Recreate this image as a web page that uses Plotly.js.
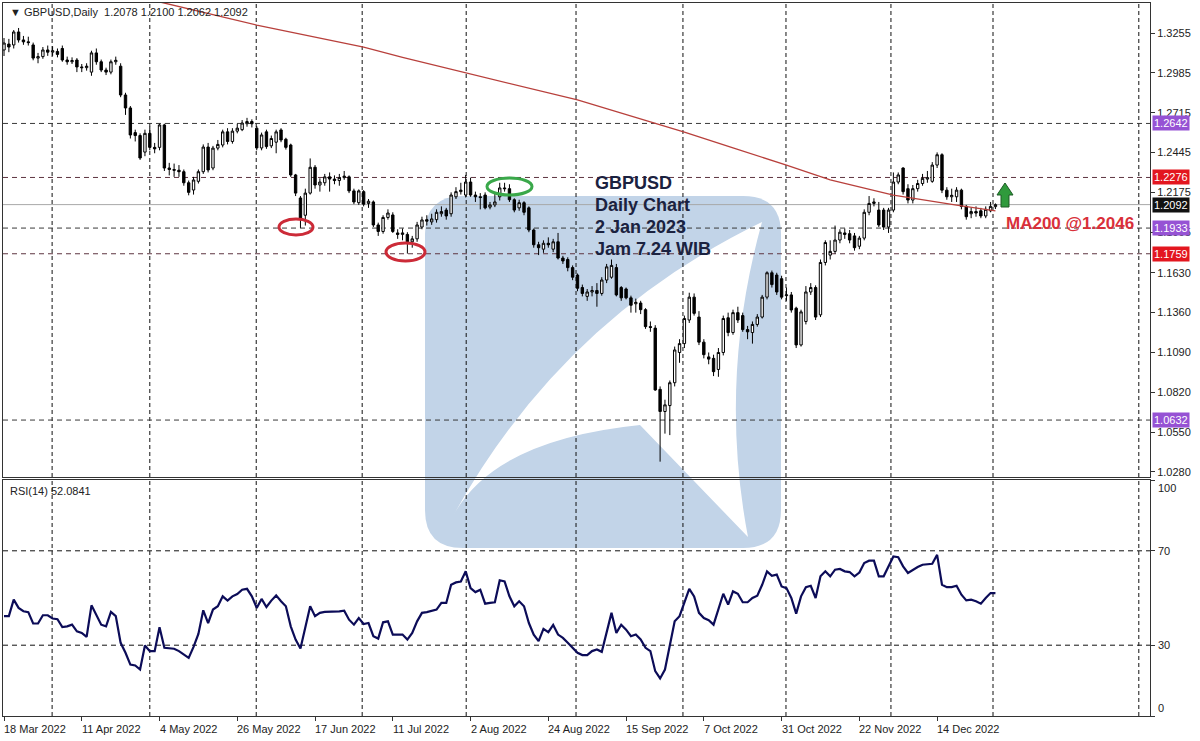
<!DOCTYPE html>
<html><head><meta charset="utf-8">
<script src="https://cdn.plot.ly/plotly-3.0.1.min.js"></script>
<style>html,body{margin:0;padding:0;background:#fff}#chart{width:1200px;height:741px}</style>
</head><body><div id="chart"></div>
<script>
// ---------------- DATA ----------------
const dateLabels = ["18 Mar 2022","11 Apr 2022","4 May 2022","26 May 2022","17 Jun 2022","11 Jul 2022","2 Aug 2022","24 Aug 2022","15 Sep 2022","7 Oct 2022","31 Oct 2022","22 Nov 2022","14 Dec 2022"];
const dateLabelBars = [0,16,32,48,64,80,96,112,128,144,160,176,192];

const open = [1.3140,1.3180,1.3174,1.3262,1.3208,1.3195,1.3174,1.3085,1.3095,1.3140,
1.3125,1.3130,1.3150,1.3072,1.3060,1.3072,1.3025,1.3020,1.2990,1.3120,
1.3060,1.3004,1.2990,1.3060,1.3030,1.2835,1.2747,1.2580,1.2560,1.2448,
1.2575,1.2480,1.2480,1.2632,1.2340,1.2330,1.2325,1.2315,1.2240,1.2191,
1.2250,1.2315,1.2482,1.2340,1.2475,1.2496,1.2585,1.2520,1.2590,1.2600,
1.2640,1.2655,1.2610,1.2476,1.2585,1.2490,1.2515,1.2598,1.2535,1.2496,
1.2293,1.2137,1.2020,1.2170,1.2345,1.2225,1.2240,1.2280,1.2265,1.2255,
1.2275,1.2280,1.2185,1.2105,1.2180,1.2100,1.2110,1.1954,1.1910,1.2005,
1.2022,1.1900,1.1890,1.1890,1.1840,1.1860,1.1940,1.1990,1.1975,1.1990,
1.2030,1.2055,1.2030,1.2145,1.2180,1.2157,1.2245,1.2157,1.2145,1.2157,
1.2075,1.2090,1.2145,1.2205,1.2200,1.2125,1.2070,1.2105,1.2070,1.1920,
1.1820,1.1790,1.1830,1.1790,1.1840,1.1730,1.1720,1.1665,1.1615,1.1530,
1.1470,1.1500,1.1510,1.1490,1.1581,1.1600,1.1665,1.1530,1.1520,1.1460,
1.1420,1.1425,1.1380,1.1265,1.1255,1.0840,1.0690,1.0730,1.0885,1.1090,
1.1150,1.1310,1.1465,1.1330,1.1160,1.1060,1.1050,1.0975,1.1090,1.1325,
1.1225,1.1360,1.1340,1.1245,1.1225,1.1280,1.1330,1.1465,1.1630,1.1615,
1.1590,1.1475,1.1480,1.1390,1.1141,1.1300,1.1500,1.1530,1.1345,1.1700,
1.1750,1.1775,1.1852,1.1900,1.1895,1.1880,1.1810,1.1865,1.2040,1.2100,
1.2055,1.2055,1.1940,1.2055,1.2245,1.2340,1.2200,1.2123,1.2200,1.2235,
1.2265,1.2250,1.2360,1.2430,1.2190,1.2145,1.2145,1.2190,1.2080,1.2030,
1.2045,1.2050,1.2015,1.2050,1.2078];

const high = [1.3221,1.3215,1.3275,1.3289,1.3235,1.3230,1.3190,1.3120,1.3160,1.3170,
1.3165,1.3150,1.3170,1.3095,1.3090,1.3085,1.3045,1.3050,1.3135,1.3150,
1.3075,1.3020,1.3075,1.3095,1.3050,1.2850,1.2760,1.2600,1.2575,1.2600,
1.2620,1.2510,1.2640,1.2640,1.2375,1.2370,1.2360,1.2330,1.2255,1.2280,
1.2330,1.2500,1.2510,1.2490,1.2530,1.2600,1.2610,1.2610,1.2640,1.2665,
1.2680,1.2670,1.2625,1.2580,1.2600,1.2560,1.2600,1.2610,1.2545,1.2505,
1.2300,1.2150,1.2200,1.2405,1.2360,1.2270,1.2300,1.2310,1.2290,1.2300,
1.2320,1.2290,1.2200,1.2195,1.2190,1.2130,1.2120,1.1970,1.2020,1.2060,
1.2040,1.1925,1.1930,1.1905,1.1880,1.1975,1.2010,1.2020,1.2030,1.2060,
1.2080,1.2070,1.2175,1.2210,1.2240,1.2293,1.2275,1.2180,1.2170,1.2175,
1.2110,1.2170,1.2240,1.2240,1.2230,1.2135,1.2125,1.2115,1.2080,1.1930,
1.1840,1.1850,1.1870,1.1860,1.1900,1.1745,1.1735,1.1680,1.1625,1.1550,
1.1520,1.1540,1.1560,1.1600,1.1690,1.1720,1.1690,1.1540,1.1530,1.1475,
1.1455,1.1440,1.1390,1.1300,1.1275,1.0860,1.0770,1.0900,1.1130,1.1180,
1.1340,1.1495,1.1490,1.1370,1.1180,1.1090,1.1075,1.1120,1.1340,1.1360,
1.1380,1.1400,1.1360,1.1270,1.1300,1.1350,1.1480,1.1640,1.1645,1.1630,
1.1610,1.1530,1.1500,1.1400,1.1380,1.1540,1.1560,1.1545,1.1720,1.1850,
1.1850,1.1950,1.1925,1.1930,1.1920,1.1900,1.1880,1.2060,1.2150,1.2135,
1.2110,1.2070,1.2070,1.2310,1.2310,1.2345,1.2230,1.2225,1.2260,1.2300,
1.2320,1.2380,1.2446,1.2440,1.2210,1.2200,1.2210,1.2200,1.2090,1.2070,
1.2080,1.2070,1.2080,1.2110,1.2100];

const low = [1.3099,1.3125,1.3150,1.3190,1.3175,1.3170,1.3070,1.3050,1.3080,1.3100,
1.3100,1.3090,1.3060,1.3040,1.3045,1.2990,1.2990,1.3000,1.2965,1.3040,
1.2990,1.2970,1.2975,1.3040,1.2820,1.2700,1.2540,1.2520,1.2395,1.2420,
1.2460,1.2440,1.2460,1.2320,1.2290,1.2280,1.2280,1.2220,1.2155,1.2160,
1.2235,1.2300,1.2310,1.2325,1.2460,1.2480,1.2500,1.2505,1.2575,1.2590,
1.2620,1.2615,1.2460,1.2460,1.2470,1.2475,1.2440,1.2515,1.2465,1.2280,
1.2150,1.1934,1.1950,1.2160,1.2200,1.2180,1.2220,1.2180,1.2230,1.2220,
1.2260,1.2170,1.2095,1.2090,1.2080,1.2070,1.1940,1.1880,1.1895,1.1990,
1.1900,1.1860,1.1850,1.1760,1.1800,1.1840,1.1925,1.1950,1.1955,1.1970,
1.2010,1.1990,1.2010,1.2130,1.2160,1.2140,1.2145,1.2110,1.2060,1.2060,
1.2060,1.2075,1.2120,1.2180,1.2110,1.2040,1.2050,1.2020,1.1905,1.1800,
1.1750,1.1765,1.1800,1.1770,1.1720,1.1690,1.1640,1.1580,1.1505,1.1470,
1.1440,1.1470,1.1400,1.1475,1.1560,1.1590,1.1470,1.1440,1.1450,1.1360,
1.1360,1.1350,1.1250,1.1230,1.0830,1.0350,1.0540,1.0530,1.0860,1.1020,
1.1120,1.1290,1.1340,1.1140,1.1050,1.1010,1.0930,1.0925,1.1070,1.1200,
1.1210,1.1290,1.1230,1.1180,1.1150,1.1265,1.1320,1.1450,1.1530,1.1480,
1.1450,1.1440,1.1360,1.1120,1.1130,1.1280,1.1480,1.1310,1.1330,1.1680,
1.1720,1.1760,1.1830,1.1860,1.1830,1.1780,1.1790,1.1850,1.2020,1.2080,
1.1940,1.1920,1.1900,1.2040,1.2230,1.2160,1.2100,1.2100,1.2180,1.2220,
1.2240,1.2240,1.2340,1.2170,1.2125,1.2110,1.2110,1.2060,1.1990,1.2000,
1.2010,1.2000,1.2000,1.2040,1.2062];

const close = [1.3187,1.3160,1.3262,1.3208,1.3195,1.3190,1.3085,1.3095,1.3140,1.3125,
1.3135,1.3110,1.3072,1.3060,1.3068,1.3025,1.3020,1.3030,1.3120,1.3060,
1.3004,1.2990,1.3060,1.3070,1.2835,1.2747,1.2564,1.2560,1.2408,1.2575,
1.2480,1.2470,1.2632,1.2340,1.2330,1.2325,1.2315,1.2240,1.2175,1.2259,
1.2315,1.2482,1.2327,1.2475,1.2500,1.2585,1.2520,1.2590,1.2610,1.2645,
1.2655,1.2640,1.2476,1.2564,1.2485,1.2540,1.2585,1.2530,1.2480,1.2293,
1.2170,1.2000,1.2170,1.2345,1.2225,1.2245,1.2280,1.2265,1.2255,1.2275,
1.2285,1.2185,1.2110,1.2185,1.2095,1.2115,1.1954,1.1910,1.2005,1.2035,
1.1910,1.1890,1.1900,1.1840,1.1860,1.1954,1.1988,1.1980,1.1995,1.2040,
1.2045,1.2015,1.2157,1.2180,1.2190,1.2245,1.2157,1.2145,1.2140,1.2070,
1.2090,1.2110,1.2205,1.2200,1.2125,1.2055,1.2105,1.2040,1.1920,1.1820,
1.1800,1.1830,1.1820,1.1840,1.1730,1.1710,1.1665,1.1600,1.1525,1.1490,
1.1500,1.1510,1.1490,1.1581,1.1670,1.1680,1.1480,1.1460,1.1460,1.1410,
1.1430,1.1380,1.1265,1.1260,1.0836,1.0690,1.0735,1.0885,1.1107,1.1150,
1.1320,1.1465,1.1355,1.1160,1.1075,1.1045,1.0960,1.1090,1.1320,1.1225,
1.1360,1.1310,1.1245,1.1230,1.1280,1.1330,1.1465,1.1630,1.1550,1.1500,
1.1465,1.1480,1.1378,1.1141,1.1365,1.1500,1.1530,1.1330,1.1700,1.1835,
1.1775,1.1852,1.1905,1.1890,1.1852,1.1800,1.1865,1.2040,1.2100,1.2110,
1.1954,1.1940,1.2055,1.2245,1.2293,1.2180,1.2123,1.2200,1.2235,1.2270,
1.2275,1.2360,1.2430,1.2190,1.2145,1.2155,1.2190,1.2080,1.2010,1.2045,
1.2035,1.2015,1.2060,1.2080,1.2092];

const maBars = [30,33,52,74,82,95,118,133,140,150,161,170,183,196,204];
const maValues = [1.3479,1.3458,1.3309,1.3160,1.3090,1.2984,1.2801,1.2652,1.2584,1.2476,1.2360,1.2259,1.2157,1.2089,1.2050];

const rsi = [42.3,42.3,49.3,45.8,44.4,44.0,39.2,39.2,42.7,42.7,
41.3,41.0,37.7,38.0,38.7,35.9,35.2,33.5,46.9,43.0,
38.7,38.0,44.1,42.3,31.0,26.8,21.8,21.4,19.7,29.9,
27.5,27.5,37.6,28.9,28.6,28.5,27.5,26.1,24.6,29.3,
34.8,44.8,39.4,45.1,46.5,50.7,48.9,50.7,51.7,53.5,
53.9,50.7,45.8,49.6,46.2,48.9,51.1,48.6,46.5,38.0,
32.4,28.6,38.0,46.5,42.3,43.7,44.1,44.1,44.1,44.3,
44.6,40.8,38.7,41.5,39.0,39.4,33.8,32.8,39.7,40.1,
34.5,34.5,34.5,32.4,35.2,40.1,43.7,44.0,44.4,45.1,
47.9,47.9,55.6,56.6,57.0,61.3,54.2,52.5,53.5,47.6,
47.9,48.2,57.5,57.0,50.7,46.5,48.6,46.5,39.4,34.5,
31.7,36.9,35.5,38.6,34.5,33.1,31.0,28.9,26.8,25.8,
25.8,27.5,28.2,27.2,35.2,43.7,35.2,38.7,36.6,33.8,
34.5,32.4,28.9,27.5,19.0,15.9,19.7,29.6,40.1,42.3,
47.9,53.9,50.7,43.7,41.5,40.6,38.7,45.1,51.8,47.2,
52.8,51.8,48.2,48.2,50.0,51.0,55.6,61.3,59.4,59.9,
54.9,54.2,50.0,43.4,50.7,54.6,55.2,50.0,59.2,61.3,
59.2,62.0,62.3,61.3,61.0,59.2,60.8,64.8,65.8,65.8,
59.2,59.2,63.4,67.6,67.3,63.4,60.6,62.0,63.1,64.1,
64.2,64.5,68.3,55.6,54.6,54.6,55.2,51.4,49.0,49.3,
48.6,47.6,50.0,52.1,52.08];

const priceTicks = [1.3255,1.2985,1.2715,1.2445,1.2175,1.1905,1.1630,1.1360,1.1090,1.0820,1.0550,1.0280];
const levelPrices = [1.2642,1.2276,1.1933,1.1759,1.0632];
const levelKinds = ["purple","red","purple","red","purple"];
const lastPrice = 1.2092;
const rsiLevels = [70,30];
const rsiTicks = [100,70,30,0];
const headerText = "\u25BC GBPUSD,Daily  1.2078 1.2100 1.2062 1.2092";
const rsiText = "RSI(14) 52.0841";
const noteLines = ["GBPUSD","Daily Chart","2 Jan 2023","Jam 7.24 WIB"];
const maText = "MA200 @1.2046";

// ---------------- LAYOUT HELPERS ----------------
const L = 3, R = 1150, T = 3, B = 716;
const px = x => (x - L) / (R - L);
const py = y => (B - y) / (B - T);
const P = (x, y) => px(x).toFixed(5) + "," + py(y).toFixed(5);

const bars = close.map((_, i) => i);

const traces = [
  {type:"candlestick", x:bars, open:open, high:high, low:low, close:close,
   xaxis:"x", yaxis:"y", whiskerwidth:0, hoverinfo:"skip",
   increasing:{line:{color:"#000",width:1}, fillcolor:"#ffffff"},
   decreasing:{line:{color:"#000",width:1}, fillcolor:"#000000"}},
  {type:"scatter", mode:"lines", x:maBars, y:maValues, xaxis:"x", yaxis:"y",
   line:{color:"#b8403c", width:1.3}, hoverinfo:"skip"},
  {type:"scatter", mode:"lines", x:bars, y:rsi, xaxis:"x2", yaxis:"y2",
   line:{color:"#0c0c58", width:2.2}, hoverinfo:"skip"}
];

const shapes = [];
// watermark rounded square
const wx0=425, wx1=781, wy0=196, wy1=548, r=38;
shapes.push({type:"path", xref:"paper", yref:"paper", layer:"below",
  path:"M"+P(wx0+r,wy0)+" L"+P(wx1-r,wy0)+" Q"+P(wx1,wy0)+" "+P(wx1,wy0+r)+
       " L"+P(wx1,wy1-r)+" Q"+P(wx1,wy1)+" "+P(wx1-r,wy1)+
       " L"+P(wx0+r,wy1)+" Q"+P(wx0,wy1)+" "+P(wx0,wy1-r)+
       " L"+P(wx0,wy0+r)+" Q"+P(wx0,wy0)+" "+P(wx0+r,wy0)+" Z",
  fillcolor:"#c2d4e8", line:{width:0}});
shapes.push({type:"path", xref:"paper", yref:"paper", layer:"below",
  path:"M"+P(452,518)+" Q"+P(560,320)+" "+P(762,222)+" Q"+P(718,380)+" "+P(748,537)+
       " L"+P(640,425)+" Q"+P(492,440)+" "+P(452,518)+" Z",
  fillcolor:"#ffffff", line:{width:0}});

// vertical dashed grid
const gridBars = [9.9,30.0,51.9,73.7,95.1,117.7,139.7,160.9,182.5,203.5,233.5];
gridBars.forEach(g => {
  shapes.push({type:"line", xref:"x", yref:"y domain", x0:g, x1:g, y0:0, y1:1, layer:"below",
    line:{color:"#111", width:1, dash:"4px,3px"}});
  shapes.push({type:"line", xref:"x2", yref:"y2 domain", x0:g, x1:g, y0:0, y1:1, layer:"below",
    line:{color:"#111", width:1, dash:"4px,3px"}});
});
// price levels
levelPrices.forEach((p, k) => {
  shapes.push({type:"line", xref:"x domain", yref:"y", x0:0, x1:1, y0:p, y1:p, layer:"below",
    line:{color: levelKinds[k]==="red" ? "#5e3440" : "#3a3a3a", width:1, dash:"5px,4px"}});
});
shapes.push({type:"line", xref:"x domain", yref:"y", x0:0, x1:1, y0:lastPrice, y1:lastPrice, layer:"below",
  line:{color:"#a8a8a8", width:1}});
rsiLevels.forEach(v => {
  shapes.push({type:"line", xref:"x2 domain", yref:"y2", x0:0, x1:1, y0:v, y1:v, layer:"below",
    line:{color:"#111", width:1, dash:"5px,4px"}});
});
// ellipses
shapes.push({type:"circle", xref:"paper", yref:"paper", x0:px(279), x1:px(313), y0:py(235), y1:py(219),
  line:{color:"#cc2b38", width:3}});
shapes.push({type:"circle", xref:"paper", yref:"paper", x0:px(386), x1:px(425), y0:py(261), y1:py(243),
  line:{color:"#cc2b38", width:3}});
shapes.push({type:"circle", xref:"paper", yref:"paper", x0:px(487), x1:px(532), y0:py(195), y1:py(178),
  line:{color:"#3aa84a", width:3}});
// green arrow
shapes.push({type:"path", xref:"paper", yref:"paper",
  path:"M"+P(1005,183)+" L"+P(1013,195)+" L"+P(1009,195)+" L"+P(1009,207)+" L"+P(1001,207)+
       " L"+P(1001,195)+" L"+P(997,195)+" Z",
  fillcolor:"#2f9a3c", line:{color:"#1c5a24", width:1}});

const font = "Liberation Sans, Arial, sans-serif";
const annotations = [];
annotations.push({xref:"paper", yref:"paper", x:px(8), y:py(12), xanchor:"left", yanchor:"middle",
  text:headerText, showarrow:false, font:{family:font, size:11, color:"#222"}});
annotations.push({xref:"paper", yref:"paper", x:px(8), y:py(491), xanchor:"left", yanchor:"middle",
  text:rsiText, showarrow:false, font:{family:font, size:11, color:"#222"}});
noteLines.forEach((t, k) => {
  annotations.push({xref:"paper", yref:"paper", x:px(593), y:py(183 + k*22), xanchor:"left", yanchor:"middle",
    text:"<b>"+t+"</b>", showarrow:false, font:{family:font, size:18, color:"#1b2240"}});
});
annotations.push({xref:"paper", yref:"paper", x:px(1004), y:py(223), xanchor:"left", yanchor:"middle",
  text:"<b>"+maText+"</b>", showarrow:false, font:{family:font, size:17, color:"#d9303a"}});
// level labels on price axis
const kindColor = {purple:"#9652d4", red:"#e3161f"};
levelPrices.forEach((p, k) => {
  annotations.push({xref:"paper", yref:"y", x:px(1152), y:p, xanchor:"left", yanchor:"middle",
    text:p.toFixed(4), showarrow:false, bgcolor:kindColor[levelKinds[k]], borderpad:1,
    font:{family:font, size:11, color:"#fff"}});
});
annotations.push({xref:"paper", yref:"y", x:px(1152), y:lastPrice, xanchor:"left", yanchor:"middle",
  text:lastPrice.toFixed(4), showarrow:false, bgcolor:"#111", borderpad:1,
  font:{family:font, size:11, color:"#fff"}});
// RSI axis labels
rsiTicks.forEach(v => {
  annotations.push({xref:"paper", yref:"y2", x:px(1156), y:v, xanchor:"left", yanchor:"middle",
    yshift: v===100 ? -8 : (v===0 ? 8 : 0),
    text:String(v), showarrow:false, font:{family:font, size:11, color:"#222"}});
});
// date labels
dateLabels.forEach((t, k) => {
  annotations.push({xref:"x2", yref:"paper", x:dateLabelBars[k], y:py(721), xanchor:"left", yanchor:"top",
    xshift:-2, text:t, showarrow:false, font:{family:font, size:11, color:"#222"}});
});

const xr = [(L - 4) / 4.86, (R - 4) / 4.86];
const layout = {
  width:1200, height:741, margin:{l:3, r:50, t:3, b:25},
  paper_bgcolor:"#fff", plot_bgcolor:"#fff", showlegend:false, hovermode:false,
  xaxis:{domain:[0,1], anchor:"y", range:xr, showline:true, mirror:true, linecolor:"#333", linewidth:1,
    showgrid:false, zeroline:false, showticklabels:false, ticks:"", rangeslider:{visible:false}, fixedrange:true},
  yaxis:{domain:[py(477),1], anchor:"x", side:"right", range:[1.3255-444/1475.6, 1.3255+30/1475.6],
    tickvals:priceTicks, ticktext:priceTicks.map(v=>v.toFixed(4)), ticks:"outside", ticklen:4, tickcolor:"#333",
    showline:true, mirror:true, linecolor:"#333", linewidth:1, showgrid:false, zeroline:false,
    tickfont:{family:font, size:11, color:"#222"}, fixedrange:true},
  xaxis2:{domain:[0,1], anchor:"y2", matches:"x", range:xr, showline:true, mirror:true, linecolor:"#333", linewidth:1,
    showgrid:false, zeroline:false, tickvals:dateLabelBars, ticks:"outside", ticklen:4, tickcolor:"#333",
    showticklabels:false, rangeslider:{visible:false}, fixedrange:true},
  yaxis2:{domain:[0,py(480)], anchor:"x2", side:"right", range:[0,100], tickvals:rsiTicks, ticks:"outside",
    ticklen:4, tickcolor:"#333", showticklabels:false, showline:true, mirror:true, linecolor:"#333", linewidth:1,
    showgrid:false, zeroline:false, fixedrange:true},
  shapes:shapes, annotations:annotations
};
Plotly.newPlot("chart", traces, layout, {displayModeBar:false, staticPlot:true});
</script>
</body></html>
